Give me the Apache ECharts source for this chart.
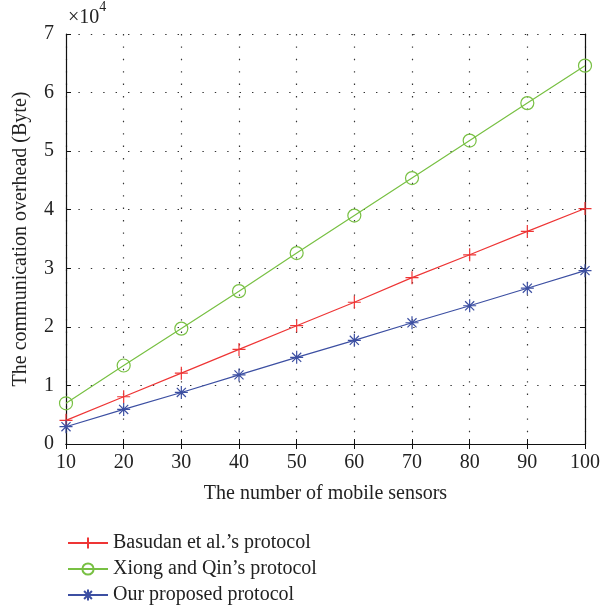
<!DOCTYPE html>
<html>
<head>
<meta charset="utf-8">
<script src="https://cdn.jsdelivr.net/npm/echarts@6/dist/echarts.min.js"></script>
<style>html,body{margin:0;padding:0;background:#fff;}#c{width:615px;height:610px;}</style>
</head>
<body>
<div id="c"></div>
<script>
const categories = [10, 20, 30, 40, 50, 60, 70, 80, 90, 100];
const basudan = [4040, 8070, 12100, 16150, 20200, 24200, 28400, 32300, 36300, 40200];
const xiong = [6950, 13400, 19700, 26100, 32600, 39000, 45400, 51800, 58200, 64600];
const ours = [2950, 5900, 8800, 11800, 14800, 17700, 20700, 23600, 26600, 29600];
const seriesNames = ["Basudan et al.’s protocol", "Xiong and Qin’s protocol", "Our proposed protocol"];
const yTicks = [0, 1, 2, 3, 4, 5, 6, 7];

const FONT = '"Liberation Serif", "DejaVu Serif", serif';
const RED = '#ee3535', GREEN = '#78c043', BLUE = '#3c4fa2';
const plus = 'path://M0,-1L0,1M-1,0L1,0';
const circ = 'path://M1,0A1,1,0,1,1,-1,0A1,1,0,1,1,1,0Z';
const star = 'path://M0,-1L0,1M-1,0L1,0M-0.7,-0.7L0.7,0.7M-0.7,0.7L0.7,-0.7';

function mk(name, data, color, symbol, size) {
  return {
    name, type: 'line', data: categories.map((x, i) => [x, data[i]]),
    symbol, symbolSize: size, showAllSymbol: true,
    lineStyle: { color, width: 1.2 },
    itemStyle: { color: 'rgba(0,0,0,0)', borderColor: color, borderWidth: 1.2 },
    color, animation: false
  };
}

const chart = echarts.init(document.getElementById('c'));
const axisLine = { show: true, lineStyle: { color: '#111', width: 1.2 } };
const splitLine = { show: true, lineStyle: { type: [1.4, 11], color: '#333', width: 1.2 } };
chart.setOption({
  animation: false,
  title: {
    text: '{a|×10}{b|4}', left: 63, top: -5,
    textStyle: { fontWeight: 'normal', rich: {
      a: { fontFamily: FONT, fontSize: 20, fontWeight: 'normal', color: '#222', padding: [8, 0, 0, 0] },
      b: { fontFamily: FONT, fontSize: 14, fontWeight: 'normal', color: '#222', verticalAlign: 'top', padding: [0, 0, 10, 0] }
    } }
  },
  grid: { left: 66, right: 30, top: 34, bottom: 166 },
  legend: {
    orient: 'vertical', left: 62, top: 528, itemGap: 6, itemWidth: 40, itemHeight: 14,
    textStyle: { fontFamily: FONT, fontSize: 20, color: '#222' },
    data: seriesNames
  },
  xAxis: [{
    type: 'value', min: 10, max: 100, interval: 10, position: 'bottom',
    name: 'The number of mobile sensors', nameLocation: 'middle', nameGap: 40,
    nameTextStyle: { fontFamily: FONT, fontSize: 20, color: '#222' },
    axisLine, axisTick: { show: true, inside: true, length: 5, lineStyle: { color: '#111' } },
    axisLabel: { fontFamily: FONT, fontSize: 20, color: '#222', margin: 9 },
    splitLine
  }, {
    type: 'value', min: 10, max: 100, interval: 10, position: 'top',
    axisLine, axisTick: { show: true, inside: true, length: 5, lineStyle: { color: '#111' } },
    axisLabel: { show: false }, splitLine: { show: false }
  }],
  yAxis: [{
    type: 'value', min: 0, max: 70000, interval: 10000, position: 'left',
    name: 'The communication overhead (Byte)', nameLocation: 'middle', nameGap: 35,
    nameTextStyle: { fontFamily: FONT, fontSize: 20, color: '#222' },
    axisLine, axisTick: { show: true, inside: true, length: 5, lineStyle: { color: '#111' } },
    axisLabel: { fontFamily: FONT, fontSize: 20, color: '#222', margin: 12, formatter: v => String(yTicks[Math.round(v / 10000)]) },
    splitLine
  }, {
    type: 'value', min: 0, max: 70000, interval: 10000, position: 'right',
    axisLine, axisTick: { show: true, inside: true, length: 5, lineStyle: { color: '#111' } },
    axisLabel: { show: false }, splitLine: { show: false }
  }],
  series: [
    mk(seriesNames[0], basudan, RED, plus, 13),
    mk(seriesNames[1], xiong, GREEN, circ, 13),
    mk(seriesNames[2], ours, BLUE, star, 13)
  ]
});
</script>
</body>
</html>
